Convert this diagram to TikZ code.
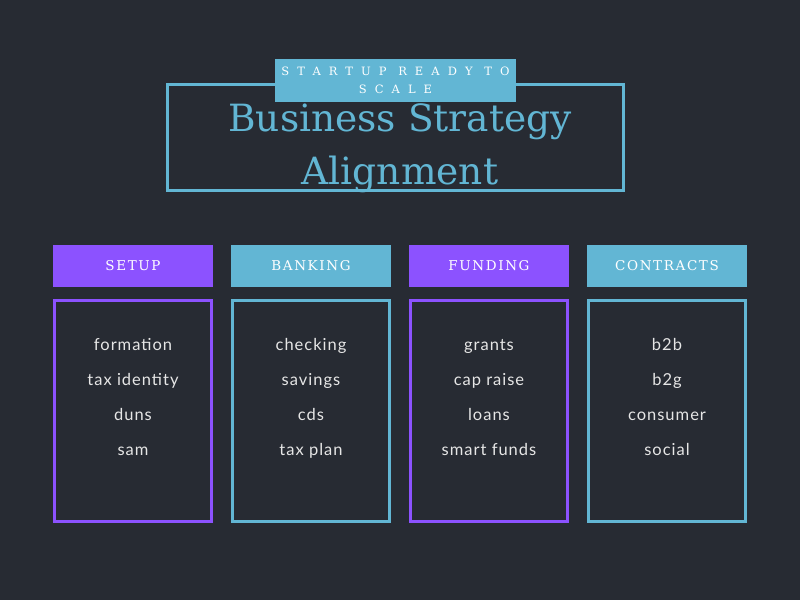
\documentclass[tikz,border=0pt]{standalone}
\usepackage{fontspec}
\setmainfont{DejaVu Serif}
\newfontfamily\itemfont[LetterSpace=6]{Lato}
\newfontfamily\capsfont[LetterSpace=12]{DejaVu Serif}
\newfontfamily\tagfont[LetterSpace=70]{DejaVu Serif}
\definecolor{bgdark}{HTML}{272B33}
\definecolor{skyblue}{HTML}{62B6D4}
\definecolor{violet}{HTML}{8C52FF}
\definecolor{itemgrey}{HTML}{E6E6E6}
\tikzset{
  headbox/.style={minimum width=160pt, minimum height=42pt, inner sep=0pt, text=white,
    font=\capsfont\fontsize{13.5}{16}\selectfont},
  listbox/.style={draw, line width=3pt, minimum width=157pt, minimum height=221pt, inner sep=0pt},
  entry/.style={text=itemgrey, text height=11pt, text depth=4pt, inner sep=0pt,
    font=\itemfont\fontsize{16.5}{19}\selectfont}
}
\begin{document}
\begin{tikzpicture}[x=1pt, y=-1pt]
	% Hintergrund
	\fill[bgdark] (0,0) rectangle (800,600);
	\useasboundingbox (0,0) rectangle (800,600);

	% Titel
	\draw (395.5,137.5) node[draw=skyblue, line width=3pt, minimum width=456pt, minimum height=106pt] (frame) {};
	\draw (395.5,80) node[fill=skyblue, minimum width=241pt, minimum height=43pt, inner sep=0pt, text=white,
		align=center, font=\tagfont\fontsize{11.5}{18}\selectfont] (tag) {STARTUP READY TO\\SCALE};
	\draw (400,148) node[text=skyblue, align=center, font=\fontsize{37.5}{53}\selectfont] (title) {Business Strategy\\Alignment};

	% Spaltenkoepfe
	\draw (133,266) node[headbox, fill=violet] (setup) {SETUP};
	\draw (311,266) node[headbox, fill=skyblue] (banking) {BANKING};
	\draw (489,266) node[headbox, fill=violet] (funding) {FUNDING};
	\draw (667,266) node[headbox, fill=skyblue] (contracts) {CONTRACTS};

	% Kaesten
	\draw (133,411) node[listbox, draw=violet] (setupbox) {};
	\draw (311,411) node[listbox, draw=skyblue] (bankingbox) {};
	\draw (489,411) node[listbox, draw=violet] (fundingbox) {};
	\draw (667,411) node[listbox, draw=skyblue] (contractsbox) {};

	% Eintraege
	\draw (133,347) node[entry] (formation) {formation};
	\draw (133,382) node[entry] (taxid) {tax identity};
	\draw (133,417) node[entry] (duns) {duns};
	\draw (133,452) node[entry] (sam) {sam};

	\draw (311,347) node[entry] (checking) {checking};
	\draw (311,382) node[entry] (savings) {savings};
	\draw (311,417) node[entry] (cds) {cds};
	\draw (311,452) node[entry] (taxplan) {tax plan};

	\draw (489,347) node[entry] (grants) {grants};
	\draw (489,382) node[entry] (capraise) {cap raise};
	\draw (489,417) node[entry] (loans) {loans};
	\draw (489,452) node[entry] (smartfunds) {smart funds};

	\draw (667,347) node[entry] (btob) {b2b};
	\draw (667,382) node[entry] (btog) {b2g};
	\draw (667,417) node[entry] (consumer) {consumer};
	\draw (667,452) node[entry] (social) {social};
\end{tikzpicture}
\end{document}
